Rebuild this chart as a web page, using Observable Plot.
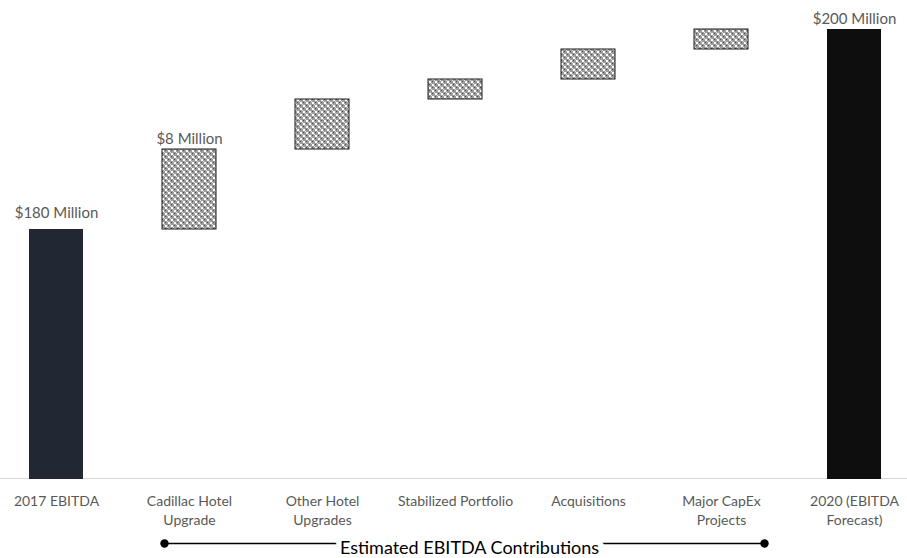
<!DOCTYPE html>
<html>
<head>
<meta charset="utf-8">
<script src="https://cdn.jsdelivr.net/npm/d3@7"></script>
<script src="https://cdn.jsdelivr.net/npm/@observablehq/plot@0.6"></script>
<style>
  html, body { margin: 0; padding: 0; background: #fff; }
  #chart svg { display: block; }
</style>
</head>
<body>
<div id="chart"></div>
<script>
// ---- data ----
const categories = [
  "2017 EBITDA",
  "Cadillac Hotel Upgrade",
  "Other Hotel Upgrades",
  "Stabilized Portfolio",
  "Acquisitions",
  "Major CapEx Projects",
  "2020 (EBITDA Forecast)"
];
const tickLabels = [
  "2017 EBITDA",
  "Cadillac Hotel\nUpgrade",
  "Other Hotel\nUpgrades",
  "Stabilized Portfolio",
  "Acquisitions",
  "Major CapEx\nProjects",
  "2020 (EBITDA\nForecast)"
];
const startValue = 180;          // $ million, 2017 EBITDA
const contributions = [8, 5, 2, 3, 2]; // $ million, estimated contributions
const endValue = 200;            // $ million, 2020 forecast
const valueLabels = ["$180 Million", "$8 Million", "", "", "", "", "$200 Million"];
const axisMin = 155;             // value at the bottom of the (truncated) axis
const axisMax = 200;
const bracketTitle = "Estimated EBITDA Contributions";

// ---- build rows ----
const rows = [];
rows.push({cat: categories[0], y1: axisMin, y2: startValue, kind: "start", label: valueLabels[0]});
let run = startValue;
contributions.forEach((v, i) => {
  rows.push({cat: categories[i + 1], y1: run, y2: run + v, kind: "step", label: valueLabels[i + 1]});
  run += v;
});
rows.push({cat: categories[6], y1: axisMin, y2: endValue, kind: "end", label: valueLabels[6]});

const labelOf = new Map(categories.map((c, i) => [c, tickLabels[i]]));

const patternDefs = () => {
  const defs = d3.create("svg:defs");
  const p = defs.append("pattern")
    .attr("id", "dots").attr("width", 6).attr("height", 6)
    .attr("patternUnits", "userSpaceOnUse");
  p.append("rect").attr("width", 6).attr("height", 6).attr("fill", "#9c9c9c");
  p.append("rect").attr("x", 0).attr("y", 0).attr("width", 2).attr("height", 2).attr("fill", "#ffffff");
  p.append("rect").attr("x", 3).attr("y", 3).attr("width", 2).attr("height", 2).attr("fill", "#ffffff");
  p.append("rect").attr("x", 3).attr("y", 0).attr("width", 1).attr("height", 1).attr("fill", "#4a4a4a");
  p.append("rect").attr("x", 0).attr("y", 3).attr("width", 1).attr("height", 1).attr("fill", "#4a4a4a");
  p.append("rect").attr("x", 2).attr("y", 2).attr("width", 1).attr("height", 1).attr("fill", "#dddddd");
  p.append("rect").attr("x", 5).attr("y", 5).attr("width", 1).attr("height", 1).attr("fill", "#dddddd");
  return defs.node();
};

const font = "Lato, 'Open Sans', sans-serif";
const bracketY = 148.6;

const plot = Plot.plot({
  width: 907,
  height: 558,
  marginTop: 29,
  marginBottom: 79,
  marginLeft: 0,
  marginRight: 0,
  style: {fontFamily: font, background: "#fff", overflow: "visible"},
  x: {type: "band", domain: categories, range: [-11.1, 921.1], paddingInner: 0.594, paddingOuter: 0.297, label: null},
  y: {domain: [axisMin, axisMax], axis: null},
  marks: [
    patternDefs,
    Plot.ruleY([axisMin], {stroke: "#d9d9d9", strokeWidth: 1.2, dy: -1}),
    Plot.barY(rows.filter(d => d.kind === "start"), {x: "cat", y1: "y1", y2: "y2", fill: "#222833"}),
    Plot.barY(rows.filter(d => d.kind === "end"), {x: "cat", y1: "y1", y2: "y2", fill: "#0e0e0e"}),
    Plot.barY(rows.filter(d => d.kind === "step"), {x: "cat", y1: "y1", y2: "y2", fill: "url(#dots)", stroke: "#1a1a1a", strokeWidth: 1}),
    Plot.text(rows.filter(d => d.label && d.kind === "start"), {x: "cat", y: "y2", text: "label", dy: -16, fontSize: 15, fill: "#595959"}),
    Plot.text(rows.filter(d => d.label && d.kind !== "start"), {x: "cat", y: "y2", text: "label", dy: -10, fontSize: 15, fill: "#595959"}),
    Plot.axisX({tickSize: 0, tickPadding: 14, fontSize: 14, lineHeight: 1.3, fill: "#595959", tickFormat: d => labelOf.get(d), label: null}),
    // bracket for the contributions
    Plot.ruleY([{y: bracketY, a: categories[1], b: categories[5]}], {y: "y", x1: "a", x2: "b", insetLeft: 2, insetRight: -16, stroke: "#000", strokeWidth: 1.3}),
    Plot.dot([categories[1]], {x: d => d, y: () => bracketY, dx: -25, r: 4.2, fill: "#000", stroke: "none"}),
    Plot.dot([categories[5]], {x: d => d, y: () => bracketY, dx: 43, r: 4.2, fill: "#000", stroke: "none"}),
    Plot.text([bracketTitle], {x: () => categories[3], y: () => bracketY, dx: 14, dy: 5, text: d => d, fontSize: 18, fill: "#000", stroke: "#fff", strokeWidth: 11, strokeLinejoin: "round", paintOrder: "stroke"})
  ]
});
document.getElementById("chart").appendChild(plot);
</script>
</body>
</html>
